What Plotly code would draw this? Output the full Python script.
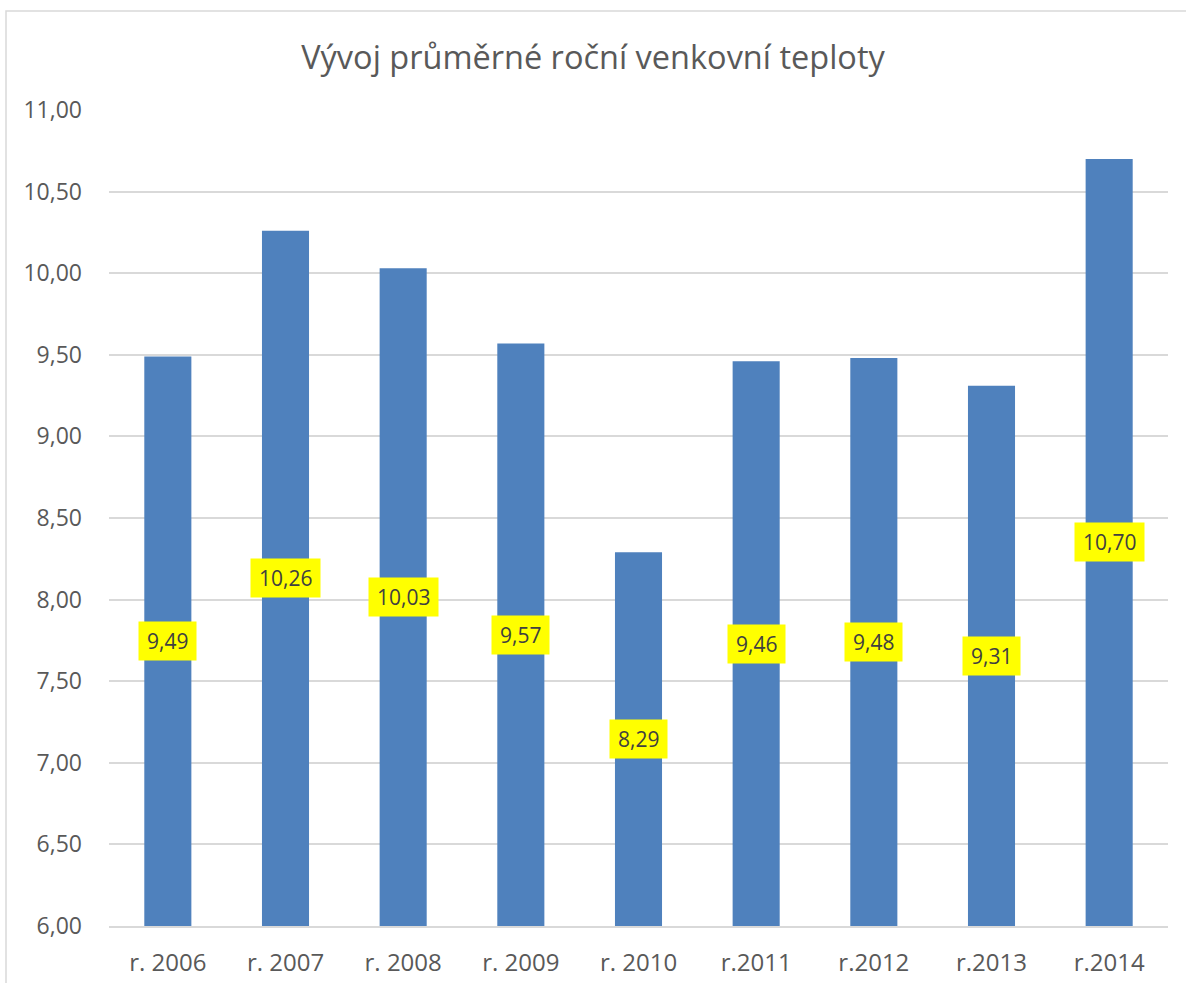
import plotly.graph_objects as go

categories = ["r. 2006", "r. 2007", "r. 2008", "r. 2009", "r. 2010", "r.2011", "r.2012", "r.2013", "r.2014"]
values = [9.49, 10.26, 10.03, 9.57, 8.29, 9.46, 9.48, 9.31, 10.70]
y_min, y_max = 6.0, 11.0
tick_vals = [6.0, 6.5, 7.0, 7.5, 8.0, 8.5, 9.0, 9.5, 10.0, 10.5, 11.0]

FONT = "Open Sans"
W, H = 1186, 983
ml, mr, mt, mb = 109, 18, 110, 57
pw, ph = W - ml - mr, H - mt - mb

fig = go.Figure()
fig.add_trace(go.Bar(
    x=categories,
    y=[v - y_min for v in values],
    base=y_min,
    marker=dict(color="#4f81bd", line=dict(width=0)),
    hoverinfo="skip",
))

for c, v in zip(categories, values):
    fig.add_annotation(
        x=c, y=(y_min + v) / 2, xref="x", yref="y",
        text=f"{v:.2f}".replace(".", ","),
        showarrow=False,
        font=dict(family=FONT, size=21, color="#404040"),
        bgcolor="#ffff00", borderpad=8, height=22,
    )

def px_x(p):
    return (p - ml) / pw

def px_y(p):
    return (H - mb - p) / ph

fig.add_shape(type="rect", xref="paper", yref="paper",
              x0=px_x(6), x1=px_x(1200), y0=px_y(11), y1=px_y(1000),
              line=dict(color="#d9d9d9", width=1.5), fillcolor="rgba(0,0,0,0)", layer="below")

fig.update_layout(
    width=W, height=H,
    margin=dict(l=ml, r=mr, t=mt, b=mb, autoexpand=False),
    paper_bgcolor="white", plot_bgcolor="white",
    separators=", ",
    bargap=0.6,
    showlegend=False,
    title=dict(text="Vývoj průměrné roční venkovní teploty",
               x=0.5, xref="container", xanchor="center",
               y=1 - 58 / H, yanchor="middle",
               font=dict(family=FONT, size=32.5, color="#595959")),
    xaxis=dict(
        showgrid=False, showline=True, linecolor="#d9d9d9", linewidth=1.5,
        ticks="", ticklabelstandoff=14, automargin=False,
        tickfont=dict(family=FONT, size=24, color="#595959"),
    ),
    yaxis=dict(
        range=[y_min, y_max], tickvals=tick_vals, tickformat=".2f",
        showgrid=True, gridcolor="#d9d9d9", gridwidth=1.5, automargin=False,
        zeroline=False, showline=False, ticks="", ticklabelstandoff=26,
        tickfont=dict(family=FONT, size=23, color="#595959"),
    ),
)

fig.write_html("out.html", config={"displayModeBar": False},
               post_script="document.body.style.margin='0';document.body.style.overflow='hidden';")
